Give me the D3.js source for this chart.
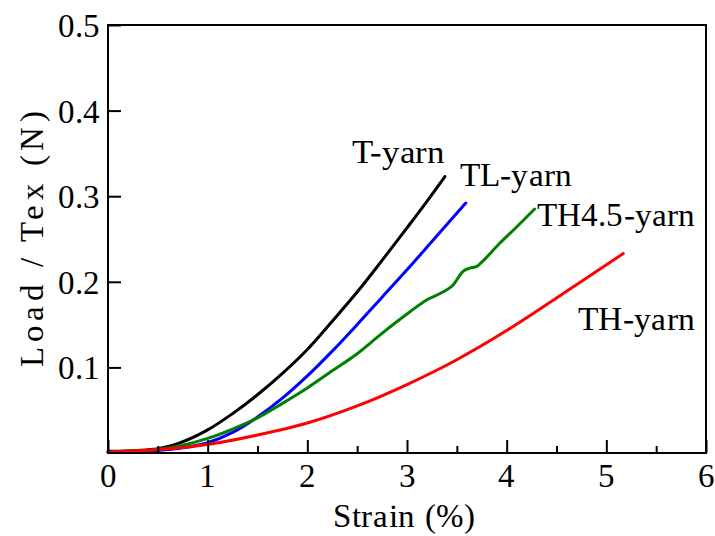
<!DOCTYPE html>
<html>
<head>
<meta charset="utf-8">
<script src="https://cdn.jsdelivr.net/npm/d3@7"></script>
<style>
  @font-face {
    font-family: "ChartSerif";
    src: local("Liberation Serif"), local("LiberationSerif"), local("Times New Roman"), local("Tinos");
  }
  body { margin: 0; }
  svg text { font-family: "ChartSerif", "Liberation Serif", "Times New Roman", serif !important; }
</style>
</head>
<body>
<svg width="715" height="536"></svg>
<script>
// strain (%) vs load/tex (N)
var tStrain  = [0, 0.3, 0.5, 0.7, 1.0, 1.25, 1.5, 1.75, 2.0, 2.25, 2.5, 2.75, 3.0, 3.2, 3.38];
var tLoad    = [0.002, 0.003, 0.005, 0.011, 0.027, 0.046, 0.068, 0.093, 0.121, 0.154, 0.188, 0.225, 0.263, 0.294, 0.323];

var tlStrain = [0, 0.5, 0.75, 1.0, 1.25, 1.5, 1.75, 2.0, 2.25, 2.5, 2.75, 3.0, 3.25, 3.59];
var tlLoad   = [0.001, 0.003, 0.006, 0.012, 0.024, 0.042, 0.064, 0.090, 0.119, 0.150, 0.182, 0.214, 0.247, 0.292];

var th45Strain = [0, 0.5, 0.75, 1.0, 1.25, 1.5, 1.75, 2.0, 2.25, 2.5, 2.73, 3.03, 3.2, 3.36, 3.46, 3.56, 3.63, 3.7, 3.75, 3.93, 4.1, 4.28];
var th45Load   = [0.001, 0.004, 0.009, 0.017, 0.028, 0.041, 0.058, 0.076, 0.096, 0.116, 0.138, 0.165, 0.179, 0.188, 0.196, 0.212, 0.216, 0.218, 0.223, 0.245, 0.264, 0.285];

var thStrain = [0, 0.5, 1.0, 1.5, 2.0, 2.5, 3.0, 3.5, 4.0, 4.5, 5.17];
var thLoad   = [0.001, 0.004, 0.010, 0.021, 0.035, 0.055, 0.080, 0.109, 0.143, 0.181, 0.233];

var seriesNames  = ["T-yarn", "TL-yarn", "TH4.5-yarn", "TH-yarn"];
var seriesColors = ["#000000", "#0000ff", "#008000", "#ff0000"];

var xTicks = [0, 1, 2, 3, 4, 5, 6];
var xMinorTicks = [0.5, 1.5, 2.5, 3.5, 4.5, 5.5];
var yTicks = [0.1, 0.2, 0.3, 0.4, 0.5];

var svg = d3.select("svg"),
    margin = {top: 25, right: 9, bottom: 83, left: 108},
    width = svg.attr("width") - margin.left - margin.right,
    height = svg.attr("height") - margin.top - margin.bottom;

var x = d3.scaleLinear().domain([0, 6]).range([margin.left, margin.left + width]),
    y = d3.scaleLinear().domain([0, 0.5]).range([margin.top + height, margin.top]);

function zip(xs, ys) {
    return xs.map(function (s, i) { return {strain: s, load: ys[i]}; });
}
var series = [zip(tStrain, tLoad), zip(tlStrain, tlLoad), zip(th45Strain, th45Load), zip(thStrain, thLoad)];

var line = d3.line()
    .curve(d3.curveMonotoneX)
    .x(function (d) { return x(d.strain); })
    .y(function (d) { return y(d.load); });

var labels = svg.append("g").attr("class", "labels");

labels.selectAll(".xlabel")
    .data(xTicks)
    .enter().append("text")
    .attr("class", "xlabel")
    .attr("x", function (d) { return x(d); })
    .attr("y", margin.top + height + 34)
    .attr("text-anchor", "middle")
    .style("font-size", "33px")
    .text(function (d) { return d; });

labels.selectAll(".ylabel")
    .data(yTicks)
    .enter().append("text")
    .attr("class", "ylabel")
    .attr("x", margin.left - 8)
    .attr("y", function (d) { return y(d) + 12; })
    .attr("text-anchor", "end")
    .style("font-size", "33px")
    .text(function (d) { return d3.format(".1f")(d); });

labels.append("text")
    .attr("x", margin.left + width / 2 - 3)
    .attr("y", margin.top + height + 74)
    .attr("text-anchor", "middle")
    .attr("textLength", 142)
    .attr("lengthAdjust", "spacing")
    .style("font-size", "33px")
    .text("Strain (%)");

labels.append("text")
    .attr("transform", "translate(43," + (margin.top + height / 2) + ") rotate(-90)")
    .attr("text-anchor", "middle")
    .attr("textLength", 256)
    .attr("lengthAdjust", "spacing")
    .style("font-size", "33px")
    .text("Load / Tex (N)");

// curve labels, widths
var labelPos = [[352, 163], [460, 186], [537, 226], [578, 330]];
var labelLen = [93, 112, 158, 117];
labels.selectAll(".serieslabel")
    .data(seriesNames)
    .enter().append("text")
    .attr("class", "serieslabel")
    .attr("x", function (d, i) { return labelPos[i][0]; })
    .attr("y", function (d, i) { return labelPos[i][1]; })
    .attr("textLength", function (d, i) { return labelLen[i]; })
    .attr("lengthAdjust", "spacingAndGlyphs")
    .style("font-size", "33px")
    .text(function (d) { return d; });

// curves
svg.append("g").selectAll("path")
    .data(series)
    .enter().append("path")
    .attr("d", line)
    .attr("fill", "none")
    .attr("stroke-width", 3)
    .attr("stroke-linecap", "round")
    .attr("stroke-linejoin", "round")
    .attr("stroke", function (d, i) { return seriesColors[i]; });

// x ticks point inward, no tick text from the axis
var xAxis = svg.append("g")
    .attr("transform", "translate(0," + (margin.top + height) + ")")
    .call(d3.axisTop(x).tickValues(xTicks).tickSize(13).tickFormat(""));
xAxis.append("g")
    .call(d3.axisTop(x).tickValues(xMinorTicks).tickSize(7).tickFormat(""));
xAxis.selectAll(".domain").remove();
xAxis.selectAll("text").remove();
xAxis.selectAll("line").attr("stroke", "#000").attr("stroke-width", 2);

var yAxis = svg.append("g")
    .attr("transform", "translate(" + margin.left + ",0)")
    .call(d3.axisRight(y).tickValues(yTicks).tickSize(13).tickFormat(""));
yAxis.selectAll(".domain").remove();
yAxis.selectAll("text").remove();
yAxis.selectAll("line").attr("stroke", "#000").attr("stroke-width", 2);

// frame
svg.append("rect")
    .attr("x", margin.left)
    .attr("y", margin.top)
    .attr("width", width)
    .attr("height", height)
    .attr("fill", "none")
    .attr("stroke", "#000")
    .attr("stroke-width", 2);
</script>
</body>
</html>
